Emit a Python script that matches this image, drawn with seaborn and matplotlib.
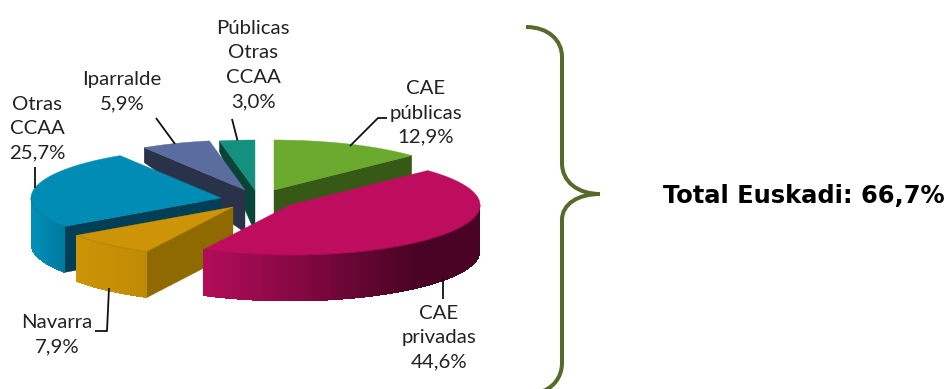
import numpy as np
import matplotlib
matplotlib.use("Agg")
import matplotlib.pyplot as plt
from matplotlib.colors import to_rgb
from matplotlib.path import Path
from matplotlib.patches import PathPatch
import seaborn as sns

# data
slice_names = ["CAE\npúblicas", "CAE\nprivadas", "Navarra", "Otras\nCCAA", "Iparralde", "Públicas\nOtras\nCCAA"]
slice_values = [12.9, 44.6, 7.9, 25.7, 5.9, 3.0]
total_label = "Total Euskadi: 66,7%"

# style
top_colors = ["#6BA92F", "#BE0D5E", "#CC9406", "#008CB4", "#5B6D9F", "#14907E"]
cut_colors = ["#365A16", "#4D0428", "#8F6A00", "#003F55", "#2A3249", "#084438"]
wall_left = ["#5F9A28", "#B40C5A", "#CC9406", "#0090B8", "#5B6D9F", "#14907E"]
wall_right = ["#4F8020", "#4A0325", "#C08A04", "#00799E", "#4A5A88", "#0F7A6A"]
apex_x = [274, 290, 233, 221, 245, 255]
apex_y = [190, 205, 207, 198, 190, 190]
draw_order = [0, 5, 4, 3, 2, 1]
RX, RY = 190, 50

sns.set_theme(style="white")
plt.rcParams["font.family"] = ["Lato", "DejaVu Sans"]

fig = plt.figure(figsize=(9.45, 3.89), dpi=100, facecolor="white")
ax = fig.add_axes([0, 0, 1, 1])
ax.set_xlim(0, 945)
ax.set_ylim(389, 0)
ax.axis("off")
sns.despine(ax=ax, left=True, bottom=True)


def depth(y):
    return np.minimum(46.0, 10 + (np.asarray(y) - 140) * 0.65)


def rim(i, ang_deg):
    a = np.radians(ang_deg)
    return apex_x[i] + RX * np.sin(a), apex_y[i] - RY * np.cos(a)


def mix(c1, c2, t):
    c1, c2 = np.array(to_rgb(c1)), np.array(to_rgb(c2))
    return tuple(c1 + (c2 - c1) * t)


def cut_wall(i, ang):
    ts = np.linspace(0, 1, 30)
    ex, ey = rim(i, ang)
    x = apex_x[i] + (ex - apex_x[i]) * ts
    y = apex_y[i] + (ey - apex_y[i]) * ts
    ax.fill(np.r_[x, x[::-1]], np.r_[y, (y + depth(y))[::-1]],
            color=cut_colors[i], lw=0.3, zorder=2)


edges = np.r_[0, np.cumsum(slice_values)] / np.sum(slice_values) * 360

for i in draw_order:
    a0, a1 = edges[i], edges[i + 1]
    # visible cut faces
    if np.sin(np.radians(a0)) < -1e-6:
        cut_wall(i, a0)
    if np.sin(np.radians(a1)) > 1e-6:
        cut_wall(i, a1)
    # outer wall, front half only, shaded from left to right
    lo, hi = max(a0, 90), min(a1, 270)
    if hi > lo:
        angs = np.linspace(lo, hi, 90)
        xs, ys = rim(i, angs)
        span = xs.max() - xs.min()
        # painted as overlapping strips so no seams show
        for k in range(len(angs) - 1):
            sx, sy = xs[k:k + 4], ys[k:k + 4]
            t = (xs[k] - xs.min()) / span
            t = min(1.0, t * 1.3) if i == 1 else t
            col = mix(wall_left[i], wall_right[i], t)
            ax.fill(np.r_[sx, sx[::-1]], np.r_[sy, (sy + depth(sy))[::-1]],
                    color=col, lw=0, antialiased=False, zorder=2)
    # top face
    angs = np.linspace(a0, a1, 120)
    xs, ys = rim(i, angs)
    ax.fill(np.r_[apex_x[i], xs], np.r_[apex_y[i], ys], color=top_colors[i], lw=0.3, zorder=2)
    if hi > lo:
        angs = np.linspace(lo, hi, 90)
        xs, ys = rim(i, angs)
        ax.plot(xs, ys, color=mix(top_colors[i], "black", 0.12), lw=0.6, zorder=2)

# labels
text_kw = dict(fontsize=14.7, color="#222222", ha="center", va="center", linespacing=1.52, zorder=5)
pct = [f"{v:.1f}%".replace(".", ",") for v in slice_values]
label_pos = [(426, 113), (439, 338), (57, 335), (37, 129), (122, 92), (253, 65)]
for name, p, (lx, ly) in zip(slice_names, pct, label_pos):
    ax.text(lx, ly, f"{name}\n{p}", **text_kw)

leaders = [
    ([350, 378, 387], [146, 118, 118]),
    ([443, 443], [279, 299]),
    ([109, 107, 95], [288, 331, 331]),
    ([35, 35], [167, 188]),
    ([175, 156], [144, 118]),
    ([237.5, 232], [140.5, 119]),
]
for lxs, lys in leaders:
    ax.plot(lxs, lys, color="#111111", lw=1.3, zorder=4, solid_capstyle="butt")

# brace
verts = [(526, 27), (548, 27), (562, 40), (562, 57), (562, 163), (562, 182), (578, 194), (600, 194),
         (578, 194), (562, 204), (562, 220), (562, 363), (562, 378), (552, 389), (540, 392)]
codes = [Path.MOVETO, Path.CURVE4, Path.CURVE4, Path.CURVE4, Path.LINETO, Path.CURVE4, Path.CURVE4, Path.CURVE4,
         Path.CURVE4, Path.CURVE4, Path.CURVE4, Path.LINETO, Path.CURVE4, Path.CURVE4, Path.CURVE4]
ax.add_patch(PathPatch(Path(verts, codes), fill=False, edgecolor="#566A2C", lw=2.9, zorder=3))

ax.text(663, 196, total_label, fontsize=17.4, fontweight="bold", family="DejaVu Sans",
        color="black", ha="left", va="center")

fig.savefig("out.png", dpi=100, facecolor="white")
